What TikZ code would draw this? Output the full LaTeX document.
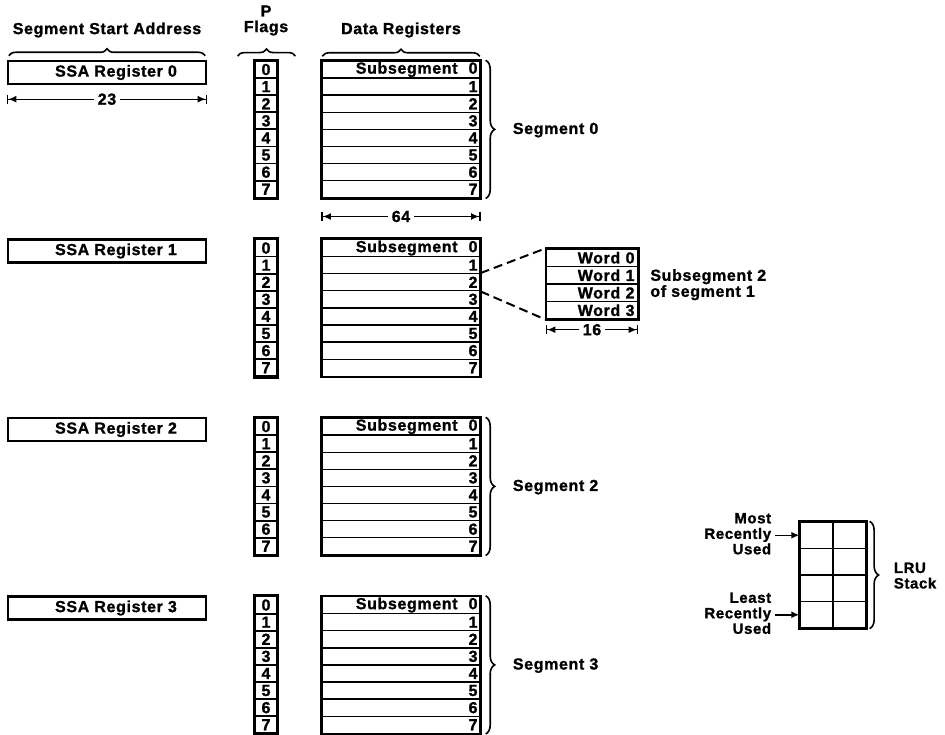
\documentclass[tikz,border=0pt]{standalone}
\usepackage{fontspec}
\setmainfont{Liberation Sans}[LetterSpace=4, BoldFeatures={FakeBold=1.2}]
\usetikzlibrary{arrows.meta,decorations.pathreplacing,calc}
\begin{document}
\begin{tikzpicture}[x=1pt,y=-1pt,
  lab/.style={font=\fontsize{16}{14}\selectfont\bfseries, inner sep=0pt},
  mlab/.style={font=\fontsize{15}{15.5}\selectfont\bfseries, inner sep=0pt},
  outer/.style={draw, line width=2.6pt},
  ssabox/.style={draw, line width=2.4pt, minimum width=198pt, minimum height=23pt, inner sep=0pt, lab},
  flagbox/.style={draw, line width=1.8pt, minimum width=21pt, minimum height=17.1pt, inner sep=0pt, lab},
  rowbox/.style={draw, line width=1.4pt, minimum width=158pt, minimum height=17.1pt, text width=153pt, align=right, inner xsep=2.5pt, inner ysep=0pt, lab},
  wordbox/.style={draw, line width=1.4pt, minimum width=91pt, minimum height=17.5pt, text width=85pt, align=right, inner xsep=3pt, inner ysep=0pt, lab},
  lrucell/.style={draw, line width=1.3pt, minimum width=33pt, minimum height=26.5pt, inner sep=0pt},
  hbrace/.style={decorate, decoration={brace, amplitude=7pt}, line width=1.6pt},
  rbrace/.style={decorate, decoration={brace, amplitude=9pt}, line width=1.6pt},
  dim/.style={line width=1.3pt, {Bar[width=9pt,line width=1.6pt]Latex[length=8pt,width=7pt]}-{Latex[length=8pt,width=7pt]Bar[width=9pt,line width=1.6pt]}},
  dimlab/.style={lab, fill=white, inner xsep=4pt, inner ysep=1pt},
  dashline/.style={line width=2pt, dash pattern=on 9pt off 5pt},
  ptr/.style={line width=1.5pt, -{Latex[length=8pt,width=7pt]}, shorten <=4pt}
]
\path[fill=white, use as bounding box] (0,0) rectangle (945,735);

% headers
\node[lab] (hssa) at (107,30) {Segment Start Address};
\node[lab] (hp) at (266,11) {P};
\node[lab] (hflags) at (266,28) {Flags};
\node[lab] (hdata) at (401,30) {Data Registers};

% segments
\foreach \k/\T in {0/61,1/239.5,2/418,3/596.5} {
  \node[ssabox] (ssa\k) at (107,\T+11.5) {\hspace{18pt}SSA Register \k};
  \foreach \r in {0,...,7} {
    \node[flagbox] (f\k-\r) at (266,\T+8.55+17.1*\r) {\r};
    \node[rowbox] (d\k-\r) at (401,\T+8.55+17.1*\r) {\ifnum\r=0 Subsegment\hspace{11pt}0\else\r\fi};
  }
  \draw[outer] (f\k-0.north west) rectangle (f\k-7.south east);
  \draw[outer] (d\k-0.north west) rectangle (d\k-7.south east);
}

% header braces
\draw[hbrace] ($(ssa0.north west)+(2,-4)$) -- ($(ssa0.north east)+(-2,-4)$);
\draw[hbrace] ($(f0-0.north west)+(-17,-4)$) -- ($(f0-0.north east)+(18,-4)$);
\draw[hbrace] ($(d0-0.north west)+(1,-4)$) -- ($(d0-0.north east)+(-1,-4)$);

% segment braces and labels
\foreach \k in {0,2,3} {
  \draw[rbrace] ($(d\k-0.north east)+(5,0)$) -- ($(d\k-7.south east)+(5,0)$);
  \node[lab, anchor=west] (seg\k) at ($(d\k-3.south east)+(32,0)$) {Segment \k};
}

% dimension lines
\coordinate (a23l) at ($(ssa0.south west)+(0,14)$);
\coordinate (a23r) at ($(ssa0.south east)+(0,14)$);
\draw[dim] (a23l) -- node[dimlab] (t23) {23} (a23r);
\coordinate (a64l) at ($(d0-7.south west)+(0,18)$);
\coordinate (a64r) at ($(d0-7.south east)+(0,18)$);
\draw[dim] (a64l) -- node[dimlab] (t64) {64} (a64r);

% word box
\foreach \r in {0,...,3} {
  \node[wordbox] (w\r) at (592,249+8.75+17.5*\r) {Word \r};
}
\draw[outer] (w0.north west) rectangle (w3.south east);
\draw[dashline] (d1-2.north east) -- (w0.north west);
\draw[dashline] (d1-2.south east) -- (w3.south west);
\coordinate (a16l) at ($(w3.south west)+(0,10)$);
\coordinate (a16r) at ($(w3.south east)+(0,10)$);
\draw[dim] (a16l) -- node[dimlab] (t16) {16} (a16r);
\node[mlab, anchor=west, align=left, font=\fontsize{16}{16}\selectfont\bfseries] (subl) at ($(w1.south east)+(12,0)$) {Subsegment 2\\of segment 1};

% LRU stack
\foreach \r in {0,...,3} {
  \foreach \c in {0,1} {
    \node[lrucell] (l\r\c) at (816.5+33*\c,535.25+26.5*\r) {};
  }
}
\draw[outer] (l00.north west) rectangle (l31.south east);
\draw[rbrace] ($(l01.north east)+(3,0)$) -- ($(l31.south east)+(3,0)$);
\node[mlab, anchor=west, align=left] (lru) at ($(l11.south east)+(27,0)$) {LRU\\Stack};
\node[mlab, anchor=east, align=right] (mru) at ($(l00.west)+(-28,-1.5)$) {Most\\Recently\\Used};
\node[mlab, anchor=east, align=right] (lrul) at ($(l30.west)+(-28,-1.5)$) {Least\\Recently\\Used};
\draw[ptr] (mru.east |- l00.west) -- (l00.west);
\draw[ptr] (lrul.east |- l30.west) -- (l30.west);
\end{tikzpicture}
\end{document}
